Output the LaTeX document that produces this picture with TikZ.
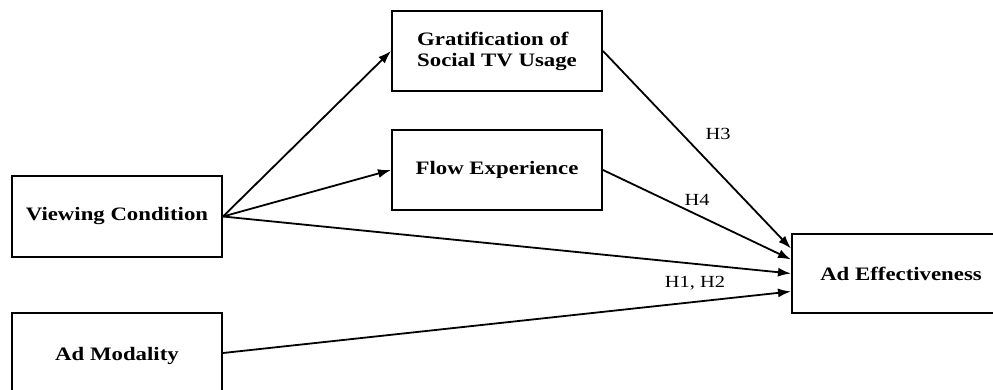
\documentclass[tikz,border=0pt]{standalone}
\usepackage{fontspec}
\setmainfont{Liberation Serif}[FakeStretch=1.2]
\usetikzlibrary{positioning, arrows.meta}

\begin{document}
\begin{tikzpicture}[
  x=1pt, y=-1pt,
  every node/.style={align=center},
  box/.style={rectangle, draw=black, line width=2pt, fill=white, minimum width=210pt, minimum height=80pt, inner sep=0pt, font=\bfseries\fontsize{19}{21}\selectfont},
  hyp/.style={inner sep=0pt, font=\fontsize{17}{18}\selectfont},
  path/.style={-{Latex[length=13pt, width=9pt]}, line width=1.8pt}
]
\useasboundingbox (0,0) rectangle (993,390);
\clip (0,0) rectangle (993,390);

% Boxes
\node[box, minimum height=81pt] (view) at (117,216.5) {Viewing Condition};
\node[box, minimum height=86pt] (modal) at (117,356) {Ad Modality};
\node[box, align=left] (grat) at (497,51) {Gratification of\\Social TV Usage};
\node[box] (flow) at (497,170) {Flow Experience};
\node[box, minimum width=218pt, minimum height=79pt] (effect) at (901,273.5) {Ad Effectiveness};

% Paths from viewing condition
\draw[path] (view.east) -- (grat.west);
\draw[path] (view.east) -- (flow.west);
\draw[path] (view.east) -- (effect.west);

% Paths into ad effectiveness
\draw[path] (grat.east) -- ([yshift=25pt]effect.west);
\draw[path] (flow.east) -- ([yshift=14pt]effect.west);
\draw[path] ([yshift=3pt]modal.east) -- ([yshift=-18pt]effect.west);

% Hypothesis labels
\node[hyp] (h3) at (718,134) {H3};
\node[hyp] (h4) at (697,200) {H4};
\node[hyp] (h12) at (695,283) {H1, H2};

\end{tikzpicture}
\end{document}
